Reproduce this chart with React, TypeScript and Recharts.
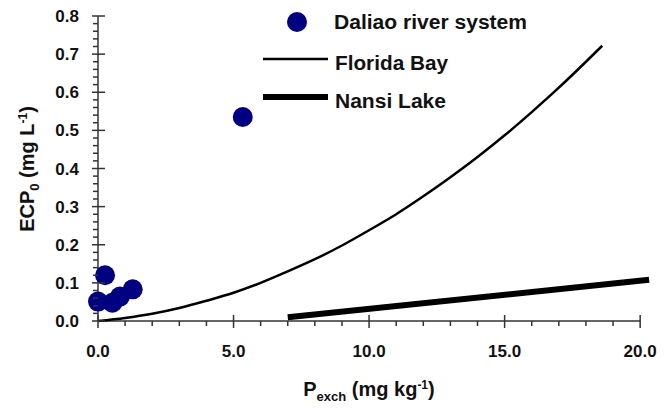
import React from 'react'
import { ComposedChart, Line, Scatter, XAxis, YAxis, ReferenceLine } from 'recharts'

const daliaoX = [0.0, 0.26, 0.53, 0.81, 1.28, 5.34]
const daliaoY = [0.051, 0.12, 0.048, 0.064, 0.083, 0.535]

const floridaX = [0, 1, 2, 3, 4, 5, 6, 7, 8, 9, 10, 11, 12, 13, 14, 15, 16, 17, 18, 18.6]
const floridaY = [0, 0.008, 0.019, 0.034, 0.053, 0.074, 0.1, 0.13, 0.162, 0.198, 0.238, 0.28, 0.327, 0.377, 0.43, 0.487, 0.548, 0.612, 0.68, 0.722]

const nansiX = [7.0, 20.33]
const nansiY = [0.01, 0.108]

const xTicks = Array.from({ length: 21 }, (_, i) => i)
const yTicks = Array.from({ length: 41 }, (_, i) => Math.round(i * 2) / 100)
const seriesNames = ['Daliao river system', 'Florida Bay', 'Nansi Lake']

const daliao = daliaoX.map((x, i) => ({ x, y: daliaoY[i] }))
const florida = floridaX.map((x, i) => ({ x, y: floridaY[i] }))
const nansi = nansiX.map((x, i) => ({ x, y: nansiY[i] }))

const FONT = '"Liberation Sans", Arial, sans-serif'
const AXIS = '#333'

const XTick = (props: any) => {
  const { x, y, payload } = props
  const v = payload.value
  const major = v % 5 === 0
  return (
    <g>
      {major ? (
        <line x1={x} x2={x} y1={y - 6} y2={y + 7} stroke={AXIS} strokeWidth={1.5} />
      ) : (
        <line x1={x} x2={x} y1={y} y2={y + 5} stroke={AXIS} strokeWidth={1.5} />
      )}
      {major && (
        <text x={x} y={y + 36} textAnchor="middle" fontFamily={FONT} fontWeight="bold" fontSize={17} fill="#111">
          {v.toFixed(1)}
        </text>
      )}
    </g>
  )
}

const YTick = (props: any) => {
  const { x, y, payload } = props
  const v = payload.value
  const major = Math.round(v * 100) % 10 === 0
  return (
    <g>
      {major ? (
        <line x1={x - 6} x2={x + 7} y1={y} y2={y} stroke={AXIS} strokeWidth={1.5} />
      ) : (
        <line x1={x - 5} x2={x} y1={y} y2={y} stroke={AXIS} strokeWidth={1.5} />
      )}
      {major && (
        <text x={x - 19} y={y + 6} textAnchor="end" fontFamily={FONT} fontWeight="bold" fontSize={17} fill="#111">
          {v.toFixed(1)}
        </text>
      )}
    </g>
  )
}

const Dot = (p: any) => <circle cx={p.cx} cy={p.cy} r={10} fill="#000080" />

export default function App() {
  return (
    <div style={{ position: 'absolute', left: 0, top: 0, width: 672, height: 408, background: '#fff' }}>
      <ComposedChart width={672} height={408} margin={{ top: 16, right: 21, bottom: 0, left: 0 }}>
        <XAxis
          type="number"
          dataKey="x"
          domain={[0, 20.4]}
          ticks={xTicks}
          interval={0}
          height={87}
          axisLine={false}
          tickLine={false}
          tickSize={0}
          tickMargin={0}
          tick={<XTick />}
        />
        <YAxis
          type="number"
          dataKey="y"
          domain={[0, 0.8]}
          ticks={yTicks}
          interval={0}
          width={98}
          axisLine={{ stroke: AXIS, strokeWidth: 1.5 }}
          tickLine={false}
          tickSize={0}
          tickMargin={0}
          tick={<YTick />}
        />
        <ReferenceLine segment={[{ x: 0, y: 0 }, { x: 20, y: 0 }]} stroke={AXIS} strokeWidth={1.5} />
        <Line data={florida} dataKey="y" type="monotone" stroke="#000" strokeWidth={2.5} dot={false} isAnimationActive={false} />
        <Line data={nansi} dataKey="y" type="linear" stroke="#000" strokeWidth={6} dot={false} isAnimationActive={false} />
        <Scatter data={daliao} dataKey="y" shape={<Dot />} isAnimationActive={false} />
      </ComposedChart>
      <svg width={672} height={408} style={{ position: 'absolute', left: 0, top: 0, pointerEvents: 'none' }}>
        <g fontFamily={FONT} fontWeight="bold" fill="#111">
          <circle cx={297} cy={22} r={10} fill="#000080" />
          <text x={334} y={29} fontSize={20} textLength={193} lengthAdjust="spacingAndGlyphs">{seriesNames[0]}</text>
          <line x1={263} x2={328} y1={59} y2={59} stroke="#000" strokeWidth={2.5} />
          <text x={335} y={70} fontSize={20} textLength={113} lengthAdjust="spacingAndGlyphs">{seriesNames[1]}</text>
          <line x1={263} x2={328} y1={97} y2={97} stroke="#000" strokeWidth={6} />
          <text x={335} y={108} fontSize={20} textLength={111} lengthAdjust="spacingAndGlyphs">{seriesNames[2]}</text>
          <text x={369} y={396} textAnchor="middle" fontSize={20}>
            <tspan>P</tspan>
            <tspan fontSize={13} dy={5}>exch</tspan>
            <tspan dy={-5}> (mg kg</tspan>
            <tspan fontSize={12} dy={-7}>-1</tspan>
            <tspan dy={7}>)</tspan>
          </text>
          <text x={34} y={169} textAnchor="middle" fontSize={20} transform="rotate(-90 34 169)">
            <tspan>ECP</tspan>
            <tspan fontSize={13} dy={5}>0</tspan>
            <tspan dy={-5}> (mg L</tspan>
            <tspan fontSize={12} dy={-7}>-1</tspan>
            <tspan dy={7}>)</tspan>
          </text>
        </g>
      </svg>
    </div>
  )
}
